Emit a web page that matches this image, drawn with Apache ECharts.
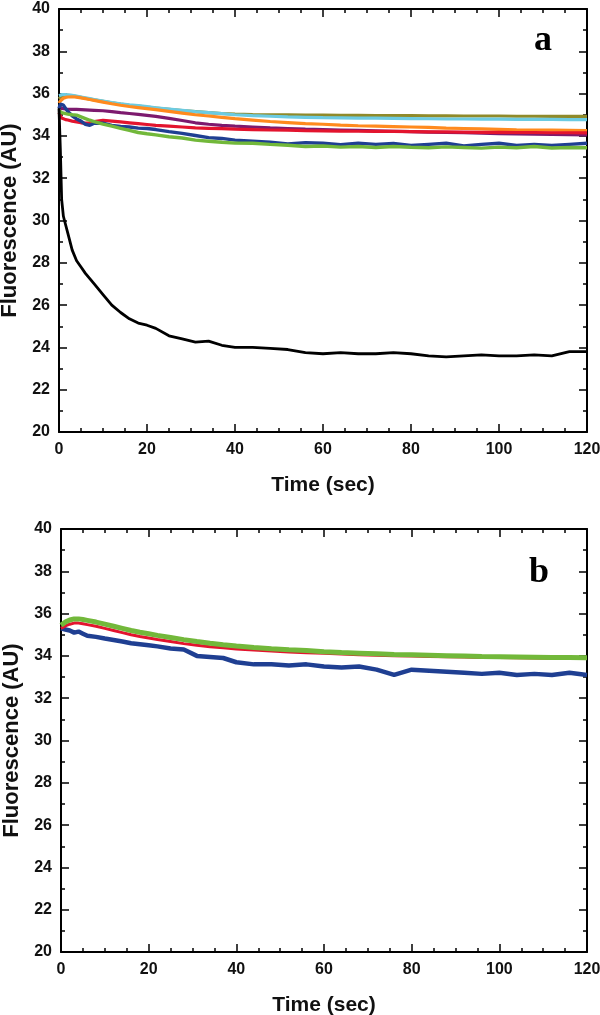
<!DOCTYPE html>
<html><head><meta charset="utf-8">
<script src="https://cdn.jsdelivr.net/npm/echarts@6/dist/echarts.min.js"></script>
<style>html,body{margin:0;padding:0;background:#fff}#c{width:600px;height:1015px}</style>
</head><body><div id="c"></div>
<script>
const timeA = [0,0.3,0.6,1,1.5,2,3,4,5,6,7,8,10,12,14,16,18,20,22,25,28,31,34,37,40,44,48,52,56,60,64,68,72,76,80,84,88,92,96,100,104,108,112,116,120];
const blackA = [35.3,33.4,31.0,30.2,29.8,29.4,28.6,28.1,27.8,27.5,27.25,27.0,26.5,26.0,25.65,25.35,25.15,25.05,24.9,24.55,24.4,24.25,24.3,24.1,24.0,24.0,23.95,23.9,23.75,23.7,23.75,23.7,23.7,23.75,23.7,23.6,23.55,23.6,23.65,23.6,23.6,23.65,23.6,23.8,23.8];
const cyanA = [35.9,35.93,35.95,35.95,35.95,35.94,35.92,35.88,35.84,35.8,35.76,35.72,35.65,35.58,35.52,35.47,35.43,35.38,35.33,35.27,35.21,35.15,35.1,35.05,35.0,34.96,34.93,34.9,34.88,34.86,34.85,34.84,34.84,34.83,34.82,34.81,34.8,34.8,34.79,34.79,34.78,34.78,34.78,34.77,34.77];
const oliveA = [35.75,35.82,35.88,35.92,35.93,35.92,35.9,35.86,35.82,35.78,35.74,35.7,35.63,35.56,35.5,35.45,35.41,35.36,35.32,35.26,35.2,35.15,35.1,35.06,35.03,35.01,35.0,34.99,34.98,34.98,34.97,34.97,34.96,34.96,34.96,34.95,34.95,34.94,34.94,34.94,34.93,34.93,34.92,34.92,34.92];
const orangeA = [35.55,35.65,35.72,35.78,35.82,35.84,35.85,35.83,35.8,35.76,35.72,35.68,35.6,35.52,35.45,35.39,35.34,35.29,35.24,35.16,35.08,35.0,34.94,34.88,34.82,34.75,34.68,34.63,34.58,34.55,34.51,34.48,34.46,34.44,34.42,34.4,34.37,34.35,34.33,34.31,34.29,34.28,34.27,34.26,34.25];
const purpleA = [35.4,35.35,35.3,35.28,35.27,35.26,35.25,35.25,35.24,35.23,35.22,35.21,35.19,35.15,35.1,35.06,35.02,34.97,34.92,34.83,34.73,34.62,34.55,34.5,34.46,34.42,34.38,34.35,34.32,34.3,34.28,34.26,34.24,34.22,34.2,34.18,34.16,34.15,34.13,34.11,34.1,34.08,34.07,34.06,34.05];
const redA = [35.1,34.95,34.85,34.8,34.77,34.75,34.7,34.66,34.62,34.6,34.62,34.68,34.74,34.7,34.66,34.62,34.58,34.54,34.5,34.46,34.42,34.38,34.36,34.34,34.32,34.3,34.28,34.27,34.25,34.24,34.23,34.22,34.21,34.21,34.2,34.19,34.19,34.18,34.17,34.17,34.16,34.16,34.15,34.15,34.14];
const blueA = [35.3,35.5,35.55,35.45,35.3,35.15,34.95,34.8,34.7,34.55,34.5,34.6,34.6,34.5,34.45,34.42,34.37,34.35,34.3,34.2,34.12,34.02,33.92,33.88,33.8,33.75,33.7,33.62,33.68,33.65,33.58,33.66,33.6,33.64,33.55,33.6,33.65,33.52,33.6,33.65,33.55,33.6,33.55,33.6,33.65];
const greenA = [35.2,35.15,35.1,35.08,35.05,35.03,35.0,34.98,34.9,34.82,34.74,34.68,34.56,34.46,34.36,34.26,34.16,34.1,34.05,33.96,33.9,33.8,33.75,33.7,33.66,33.65,33.6,33.56,33.5,33.52,33.47,33.5,33.45,33.5,33.46,33.44,33.48,33.45,33.42,33.47,33.44,33.5,33.43,33.45,33.44];

const timeB = [0,1,2,3,4,5,6,8,10,12,14,16,18,20,22,25,28,31,34,37,40,44,48,52,56,60,64,68,72,76,80,84,88,92,96,100,104,108,112,116,120];
const greenB = [35.45,35.6,35.7,35.75,35.75,35.72,35.68,35.6,35.5,35.4,35.3,35.2,35.12,35.05,34.97,34.87,34.77,34.68,34.6,34.53,34.47,34.4,34.34,34.29,34.25,34.2,34.16,34.13,34.1,34.07,34.05,34.03,34.01,33.99,33.97,33.96,33.95,33.94,33.93,33.92,33.91];
const redB = [35.3,35.42,35.5,35.55,35.55,35.52,35.48,35.4,35.3,35.2,35.1,35.0,34.92,34.85,34.78,34.68,34.58,34.5,34.43,34.38,34.33,34.28,34.23,34.19,34.15,34.12,34.09,34.06,34.03,34.01,33.99,33.97,33.96,33.95,33.93,33.92,33.91,33.9,33.89,33.89,33.88];
const blueB = [35.3,35.25,35.2,35.1,35.15,35.05,34.95,34.9,34.82,34.75,34.68,34.6,34.55,34.5,34.45,34.35,34.3,34.0,33.95,33.9,33.7,33.6,33.6,33.55,33.6,33.5,33.45,33.5,33.35,33.1,33.35,33.3,33.25,33.2,33.15,33.2,33.1,33.15,33.1,33.2,33.1];

const xTicks = {min:0, max:120, interval:20};
const yTicks = {min:20, max:40, interval:2};
const xTitle = 'Time (sec)';
const yTitle = 'Fluorescence (AU)';
const panelLabels = ['a','b'];

const FONT = 'Liberation Sans, Arial, sans-serif';
const axisLine = {show:true, onZero:false, lineStyle:{color:'#000', width:2}};
function xAx(grid, pos, withLabels){
  return {type:'value', gridIndex:grid, position:pos, min:xTicks.min, max:xTicks.max, interval:xTicks.interval,
    axisLine, splitLine:{show:false},
    axisTick:{show:true, inside:true, length:8, lineStyle:{color:'#000', width:1.5}},
    minorTick:{show:true, splitNumber:4, length:4, lineStyle:{color:'#000', width:1.5}},
    axisLabel:{show:withLabels, color:'#111', fontFamily:FONT, fontWeight:'bold', fontSize:16, margin:10},
    name: withLabels ? xTitle : '', nameLocation:'middle', nameGap:43,
    nameTextStyle:{color:'#111', fontFamily:FONT, fontWeight:'bold', fontSize:21}};
}
function yAx(grid, pos, withLabels){
  return {type:'value', gridIndex:grid, position:pos, min:yTicks.min, max:yTicks.max, interval:yTicks.interval,
    axisLine, splitLine:{show:false},
    axisTick:{show:true, inside:true, length:8, lineStyle:{color:'#000', width:1.5}},
    minorTick:{show:true, splitNumber:2, length:4, lineStyle:{color:'#000', width:1.5}},
    axisLabel:{show:withLabels, color:'#111', fontFamily:FONT, fontWeight:'bold', fontSize:16, margin:9},
    name: withLabels ? yTitle : '', nameLocation:'middle', nameGap:36,
    nameTextStyle:{color:'#111', fontFamily:FONT, fontWeight:'bold', fontSize:22}};
}
function pair(t, v){ return t.map((x,i)=>[x, v[i]]); }
function line(name, t, v, color, width, ax){
  return {name, type:'line', xAxisIndex:ax, yAxisIndex:ax, data:pair(t,v), showSymbol:false, symbol:'none',
    lineStyle:{color, width}, itemStyle:{color}, animation:false, clip:true};
}

const chart = echarts.init(document.getElementById('c'), null, {renderer:'canvas'});
chart.setOption({
  backgroundColor:'#ffffff',
  animation:false,
  grid:[
    {left:59, top:9, right:13, height:423, containLabel:false, outerBoundsMode:'none'},
    {left:61, top:529, right:13, height:423, containLabel:false, outerBoundsMode:'none'}
  ],
  xAxis:[xAx(0,'bottom',true), xAx(0,'top',false), xAx(1,'bottom',true), xAx(1,'top',false)],
  yAxis:[yAx(0,'left',true), yAx(0,'right',false), yAx(1,'left',true), yAx(1,'right',false)],
  series:[
    line('olive', timeA, oliveA, '#8f8a2a', 3.2, 0),
    line('cyan', timeA, cyanA, '#6ccbe2', 3.2, 0),
    line('orange', timeA, orangeA, '#ff8a1e', 3.2, 0),
    line('purple', timeA, purpleA, '#7d1a6e', 3.2, 0),
    line('red', timeA, redA, '#e3142e', 3.2, 0),
    line('blue', timeA, blueA, '#1f3f92', 3.4, 0),
    line('green', timeA, greenA, '#72b83a', 3.4, 0),
    line('black', timeA, blackA, '#000000', 2.8, 0),
    line('blueB', timeB, blueB, '#1f3f92', 4.5, 2),
    line('redB', timeB, redB, '#e3142e', 3, 2),
    line('greenB', timeB, greenB, '#72b83a', 5, 2)
  ],
  graphic:[
    {type:'text', style:{x:543, y:41, text:panelLabels[0], fill:'#000', font:'bold 36px "Liberation Serif", "Times New Roman", serif', textAlign:'center', textVerticalAlign:'middle'}},
    {type:'text', style:{x:539, y:573, text:panelLabels[1], fill:'#000', font:'bold 36px "Liberation Serif", "Times New Roman", serif', textAlign:'center', textVerticalAlign:'middle'}}
  ]
});
</script></body></html>
